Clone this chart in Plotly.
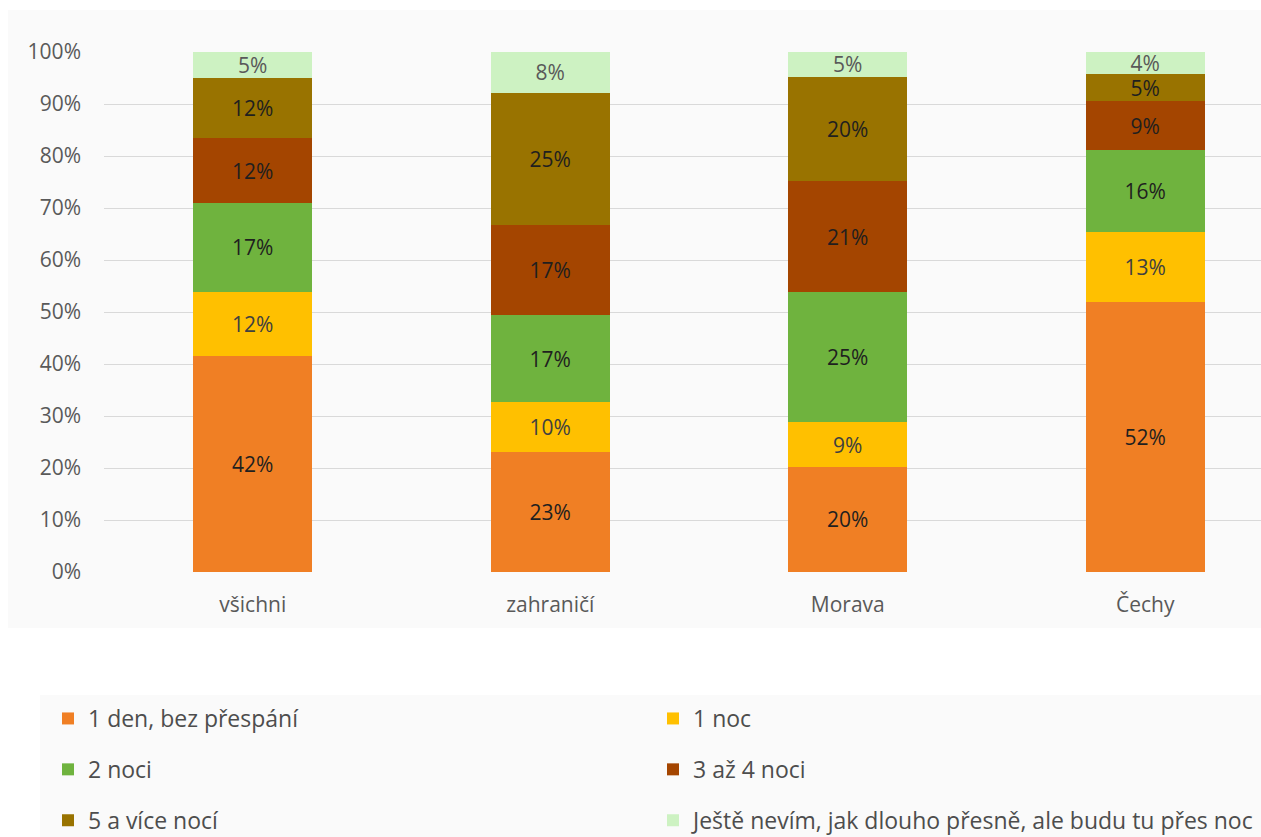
import plotly.graph_objects as go

categories = ["všichni", "zahraničí", "Morava", "Čechy"]
series_names = ["1 den, bez přespání", "1 noc", "2 noci", "3 až 4 noci", "5 a více nocí",
                "Ještě nevím, jak dlouho přesně, ale budu tu přes noc"]
den_bez = [41.6, 23.1, 20.2, 51.9]
noc_1 = [12.3, 9.6, 8.6, 13.4]
noci_2 = [17.1, 16.7, 25.0, 15.9]
noci_3_4 = [12.4, 17.4, 21.4, 9.3]
noci_5 = [11.6, 25.4, 20.0, 5.2]
nevim = [5.0, 7.8, 4.8, 4.3]
y_ticks = [0, 10, 20, 30, 40, 50, 60, 70, 80, 90, 100]
y_tick_labels = [f"{v}%" for v in y_ticks]

series_values = [den_bez, noc_1, noci_2, noci_3_4, noci_5, nevim]
colors = ["#F07F24", "#FFC000", "#6FB33E", "#A44500", "#997300", "#CDF2C2"]
text_colors = ["#1F1F1F", "#404040", "#1F1F1F", "#1F1F1F", "#1F1F1F", "#595959"]
legend_ids = ["legend", "legend2", "legend", "legend2", "legend", "legend2"]

FONT = "Open Sans"
fig = go.Figure()
for name, vals, col, tcol, lg in zip(series_names, series_values, colors, text_colors, legend_ids):
    fig.add_trace(go.Bar(
        x=categories, y=vals, name=name, marker=dict(color=col, line=dict(width=0)),
        width=0.4, texttemplate="%{y:.0f}%", textposition="inside",
        insidetextanchor="middle", textangle=0, constraintext="none",
        textfont=dict(family=FONT, size=21, color=tcol),
        legend=lg, legendgroup=name, hoverinfo="skip",
    ))

L, T, B = 104, 52, 265
W, H = 1261, 837
PW = W - L
PH = H - T - B

def px_x(p):
    return (p - L) / PW

def px_y(p):
    return (T + PH - p) / PH

fig.add_shape(type="rect", xref="paper", yref="paper", x0=px_x(8), x1=1.0,
              y0=px_y(628), y1=px_y(10), fillcolor="#FAFAFA", line=dict(width=0), layer="below")
fig.add_shape(type="rect", xref="paper", yref="paper", x0=px_x(40), x1=1.0,
              y0=px_y(837), y1=px_y(695), fillcolor="#FAFAFA", line=dict(width=0), layer="below")

legend_common = dict(
    orientation="v", xanchor="left", yanchor="top", bgcolor="rgba(0,0,0,0)",
    font=dict(family=FONT, size=23, color="#4D4D4D"), tracegroupgap=18,
    traceorder="grouped",
)

fig.update_layout(
    width=W, height=H,
    margin=dict(l=L, r=0, t=T, b=B, pad=0, autoexpand=False),
    paper_bgcolor="white", plot_bgcolor="rgba(0,0,0,0)",
    barmode="stack", bargap=0.6,
    showlegend=True,
    legend=dict(x=px_x(48), y=px_y(697), **legend_common),
    legend2=dict(x=px_x(653), y=px_y(697), **legend_common),
    xaxis=dict(range=[-0.5, 3.389], showgrid=False, showline=False, zeroline=False,
               ticks="", ticklabelstandoff=18,
               tickfont=dict(family=FONT, size=21, color="#595959")),
    yaxis=dict(range=[0, 100], tickvals=y_ticks, ticktext=y_tick_labels,
               showgrid=True, gridcolor="#D9D9D9", gridwidth=1, zeroline=False,
               showline=False, ticks="", ticklabelstandoff=22,
               tickfont=dict(family=FONT, size=21, color="#595959")),
    uniformtext=dict(mode="show", minsize=21),
)

fig.write_html("out.html")
